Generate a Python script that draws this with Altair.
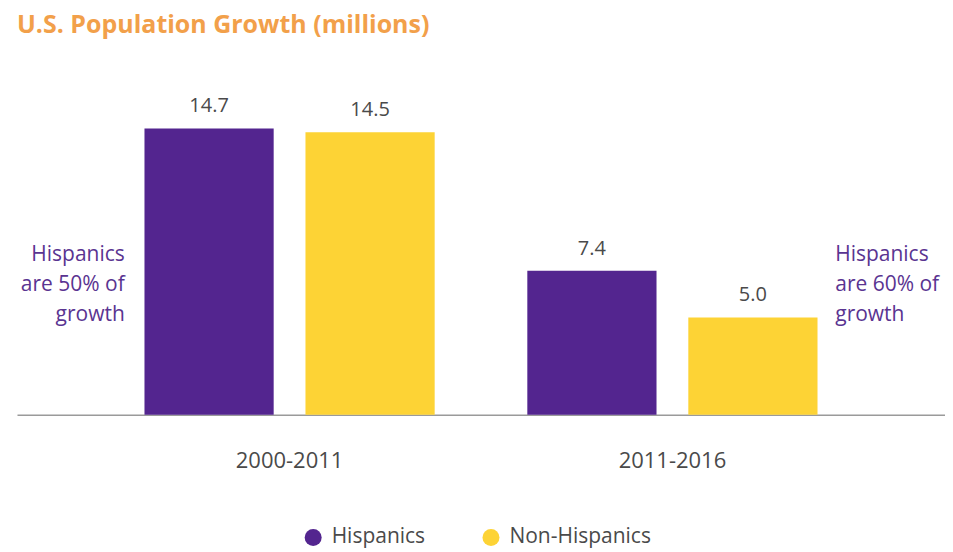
import altair as alt
import pandas as pd

# ---- data ----
periods = ["2000-2011", "2011-2016"]
groups = ["Hispanics", "Non-Hispanics"]
hispanic_growth = [14.7, 7.4]
non_hispanic_growth = [14.5, 5.0]
colors = ["#53258F", "#FDD335"]
note_left = ["Hispanics", "are 50% of", "growth"]
note_right = ["Hispanics", "are 60% of", "growth"]

rows = []
for i, p in enumerate(periods):
    rows.append({"period": p, "group": groups[0], "value": hispanic_growth[i]})
    rows.append({"period": p, "group": groups[1], "value": non_hispanic_growth[i]})
df = pd.DataFrame(rows)
df["label"] = df["value"].map(lambda v: f"{v:.1f}")

notes = pd.DataFrame({
    "period": periods,
    "note": ["\n".join(note_left), "\n".join(note_right)],
})

FONT = "Open Sans"
PURPLE_TXT = "#5A3491"

x_enc = alt.X("period:N", sort=periods,
              scale=alt.Scale(paddingInner=0.242, paddingOuter=0.333),
              axis=alt.Axis(title=None, labelAngle=0, ticks=False, grid=False,
                            domainColor="#9a9a9a", domainWidth=1.5,
                            labelFontSize=22, labelColor="#4a4a4a", labelFont=FONT,
                            labelPadding=36))
xoff_enc = alt.XOffset("group:N", sort=groups, scale=alt.Scale(paddingInner=0.1975))
y_enc = alt.Y("value:Q", scale=alt.Scale(domain=[0, 18.2], nice=False, zero=True), axis=None)

bars = alt.Chart(df).mark_bar().encode(
    x=x_enc,
    xOffset=xoff_enc,
    y=y_enc,
    color=alt.Color("group:N", sort=groups,
                    scale=alt.Scale(domain=groups, range=colors),
                    legend=alt.Legend(title=None, orient="none", direction="horizontal",
                                      legendX=286, legendY=467,
                                      symbolType="circle", symbolSize=289,
                                      symbolStrokeWidth=0, symbolOpacity=1,
                                      labelFontSize=21, labelFont=FONT,
                                      labelColor="#4a4a4a", labelOffset=8,
                                      columnPadding=55, padding=0)),
)

values = alt.Chart(df).mark_text(baseline="alphabetic", dy=-16, fontSize=20,
                                 font=FONT, color="#4a4a4a").encode(
    x=alt.X("period:N", sort=periods),
    xOffset=alt.XOffset("group:N", sort=groups),
    y="value:Q",
    text="label:N",
)

left_note = alt.Chart(notes[notes["period"] == periods[0]]).mark_text(
    align="right", baseline="middle", dx=-165, fontSize=21, font=FONT,
    color=PURPLE_TXT, lineBreak="\n", lineHeight=30).encode(
    x=alt.X("period:N", sort=periods),
    y=alt.value(195),
    text="note:N",
)

right_note = alt.Chart(notes[notes["period"] == periods[1]]).mark_text(
    align="left", baseline="middle", dx=163, fontSize=21, font=FONT,
    color=PURPLE_TXT, lineBreak="\n", lineHeight=30).encode(
    x=alt.X("period:N", sort=periods),
    y=alt.value(195),
    text="note:N",
)

chart = alt.layer(bars, values, left_note, right_note).properties(
    width=929,
    height=355,
    autosize=alt.AutoSizeParams(type="none"),
    padding={"left": 9, "top": 52, "right": 0, "bottom": 136},
    title=alt.TitleParams("U.S. Population Growth (millions)", anchor="start",
                          fontSize=25, fontWeight="bold", font=FONT,
                          color="#F2A04A", offset=22, frame="group"),
).configure_view(stroke=None)

chart.save("out.html", embed_options={"renderer": "svg", "actions": False})
